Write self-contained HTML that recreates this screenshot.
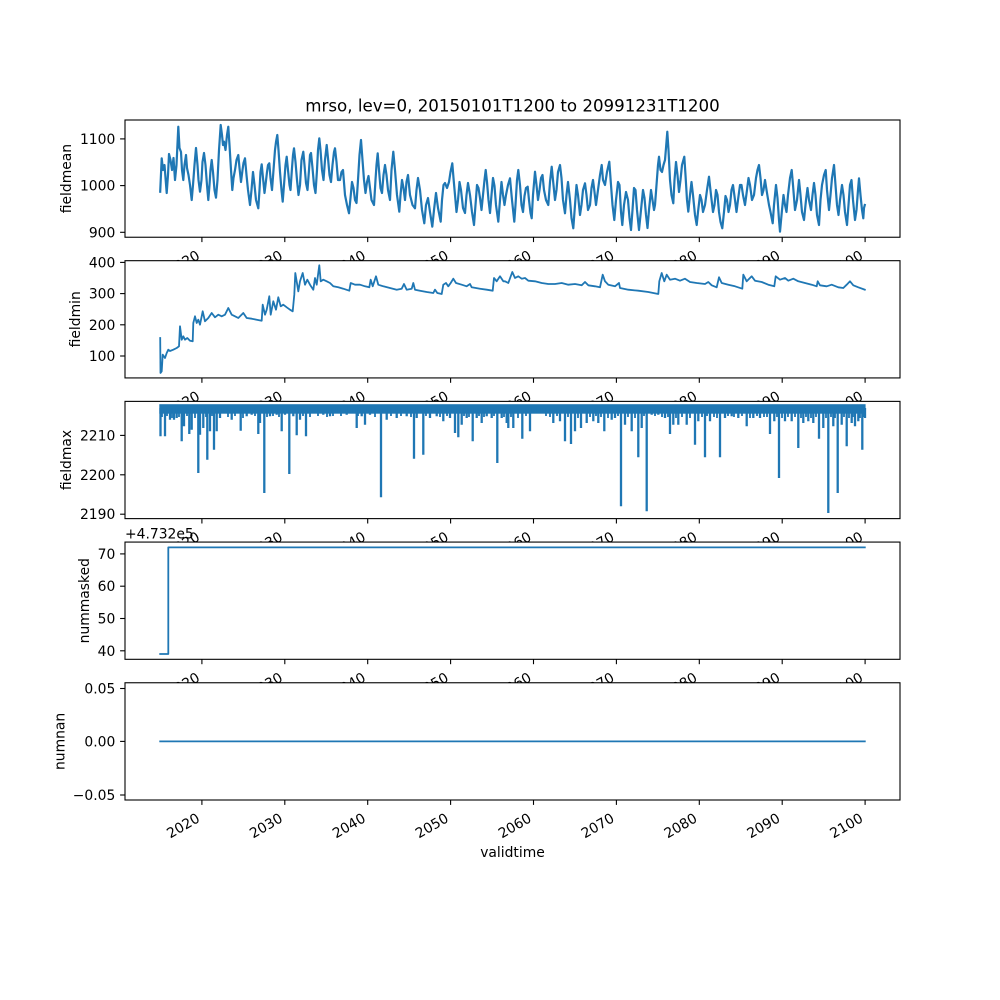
<!DOCTYPE html>
<html><head><meta charset="utf-8"><style>
html,body{margin:0;padding:0;background:#fff;}
svg{display:block;}
text{font-family:"DejaVu Sans","Liberation Sans",sans-serif;font-size:13.89px;fill:#000;}
.ln{fill:none;stroke:#1f77b4;stroke-width:1.8;stroke-linejoin:round;stroke-linecap:square;}
.ln1{fill:none;stroke:#1f77b4;stroke-width:2.2;stroke-linejoin:round;stroke-linecap:square;}
.sp{fill:none;stroke:#000;stroke-width:1.1;}
.tk{stroke:#000;stroke-width:1.1;}
</style></head><body>
<svg width="1000" height="1000" viewBox="0 0 1000 1000" xmlns="http://www.w3.org/2000/svg">
<rect x="0" y="0" width="1000" height="1000" fill="#fff"/>
<text x="512.5" y="111.7" text-anchor="middle" style="font-size:16.67px">mrso, lev=0, 20150101T1200 to 20991231T1200</text>

<!-- Panel 1 -->
<rect x="125" y="120" width="775" height="117.24" fill="#fff"/>
<polyline class="ln1" points="160.2,191.7 161.7,158.3 163,170 164.5,165 166.7,193 168,175 169,154 170.5,160 172,170 173.5,158 175,180 176.5,165 178.3,126.7 179.5,148 181,152 182,170 183.3,180 184.5,165 186,155 187,168 188.5,175 190,185 191.7,200 193,185 194.5,165 196,148 197.5,165 198.5,180 200,191.7 201.5,180 202.5,162 204,153 205.5,165 207,185 208.3,200 209.5,185 210.5,170 211.7,160 213,172 214.5,190 216,197.7 217.5,180 219,150 220.7,125 222,135 223,145 224,141.7 225.5,150 227,135 228.3,126.7 229.5,145 231,170 232.3,190 233.5,178 235,170 236.5,160 238.3,155 239.5,168 241,182 242.5,170 243.5,163 245,158.3 246.5,175 248,190 250,205 251.5,190 253,172 254.5,185 256,200 258.3,208.3 259.5,190 260.5,172 261.7,164.3 263,178 264.5,193 265.5,185 267,172 268,165 269.3,163.3 270.5,178 272,190 273.5,170 275,150 276,142 277.3,135 278.5,150 280,172 281.5,190 282.7,201.7 284,185 285.5,165 286.7,156.7 288,170 289.5,185 290.5,190 292,168 293,155 294,148.3 295.5,162 297,180 298.5,195 300,185 301.5,160 303.3,151.7 304.5,165 306,183 307.5,190 309,170 310,155 311,153 312.5,168 314,185 315.5,193 317,170 318,150 319.3,138.3 320.5,150 322,170 323.5,180 325,160 326.7,145 328,158 329.5,175 331,182 332.5,165 334,152 335,148.3 336.5,162 338,180 340,180 341.5,172 343,170 345,195 347,205 349,213.3 350.5,198 352,182 353.5,188 355,200 356.5,203 358,180 359.5,155 361,140 362.5,160 364,180 365.5,193 367,182 368.5,176 370,188 371.5,200 374,205 375.5,180 376.5,165 377.7,153.3 379,170 380.5,188 382,193 383.5,175 385,165 386.5,175 388,190 390,200 391.5,170 393.3,151.7 395,170 397,195 399.3,211.7 400.5,195 402,180 403.5,188 405,200 406.5,182 408,175 410,195 412.5,205 415,208.3 416.5,190 418,178 420,190 422,210 424.3,223.3 426,205 428,198 430,212 432.3,226.7 434,210 436,193 438,208 440.7,221.7 442,200 443.5,185 445,183 447,188 449,182 450.5,172 452.3,163.3 453.5,178 455,195 456.5,212 458,200 459.5,182 461,190 463,208 465,213 466.5,195 468,183 470,195 472,212 474,225 475.5,205 477,185 478.5,188 480,198 481.5,210 483,195 484.5,180 485.7,170 487,182 488.5,200 490,213 491.5,195 493,178 494.5,186 496,205 498.3,221.7 500,200 501.5,182 503,195 504.5,205 506,195 508,185 510,178.3 512,200 514.3,221.7 515.5,205 517,180 518.3,170 520,185 521.5,205 523,212 524.5,196 526,188 527.7,186.7 529,200 530.5,213 531.7,218.3 533,195 535,171.7 536.5,185 538,200 539.5,190 541,178 542.5,175 544,190 546,200 548.3,205 550,182 551.7,166.7 553,180 555,200 556.5,190 558,172 560,165 561.5,178 563,200 565,213.3 566.5,195 568,182 570,200 571.5,218 573.3,228.3 575,205 576.5,185 578,195 580,215 581.5,205 583,190 585,183.3 586.5,195 588,210 590,205 591.5,188 593,180 594.5,192 596,205 598,190 600,175 601.7,165 603,180 605,185 607,172 609.3,161.7 611,185 612.5,205 614.3,220 616,200 618,182 619.5,185 621,212 622.3,225 624,205 626,192 628,200 629.5,218 631,230 632.5,210 634,188 635.5,190 637,210 639,230 641,210 643,190 644.5,198 646,215 647.5,228 649,210 651,190 652.5,200 654,210 655,205 656.5,185 658,165 659,156.7 660.5,170 662,172 663.5,165 665,160 666,148 667.3,131.7 668.5,150 670,180 671.5,195 673.3,203.3 674.5,180 676,162 677.5,175 679,192 680.5,180 682,165 684.3,156.7 685.5,175 687,200 688.3,211.7 690,195 691.5,182 693,195 695,215 696.7,225 698,212 700,195 701.5,200 703,212 705,205 707,190 709,176.7 711,195 713,212 714.5,205 716,190 717.5,195 719,212 720.5,222 722.3,228.3 724,212 725.5,196 727,200 728.5,212 730,205 731.5,190 733,185 735,200 736.5,212 738,200 740,185 741.5,185 743,195 745,205 747,190 748.5,178 750,185 752,200 754,195 756,178 757.5,170 759,165 760.5,178 762,195 763.5,190 765,180 767,193 769,205 770.5,212 772.7,223.3 774,205 776,185 777.5,198 779,220 780,231.7 782,210 783.5,195 785,205 786.5,212 788,195 790,178 791.7,170 793,185 795,210 797,200 799,180 800.5,195 802,212 804,220 806,200 807.5,188 809,200 811,210 812.5,195 814,183 815.5,195 817,215 819,225 820.5,200 822,185 824,175 825.7,170 827,190 829,210 830.5,195 832,178 834,165 835.5,185 837,205 838.5,215 840,200 842,185 843.5,195 845,212 847,225 848.5,205 850,185 851.5,180 853,200 855,220 856.5,210 858,190 859,178.3 860.5,195 862,210 863.3,218.3 864,208 864.8,205"/>
<rect class="sp" x="125" y="120" width="775" height="117.24"/>
<g class="tk">
<line x1="120.1" y1="138.9" x2="125" y2="138.9"/><line x1="120.1" y1="185.6" x2="125" y2="185.6"/><line x1="120.1" y1="232.3" x2="125" y2="232.3"/>
<line x1="201.9" y1="237.24" x2="201.9" y2="242.1"/><line x1="284.8" y1="237.24" x2="284.8" y2="242.1"/><line x1="367.7" y1="237.24" x2="367.7" y2="242.1"/><line x1="450.6" y1="237.24" x2="450.6" y2="242.1"/><line x1="533.5" y1="237.24" x2="533.5" y2="242.1"/><line x1="616.4" y1="237.24" x2="616.4" y2="242.1"/><line x1="699.3" y1="237.24" x2="699.3" y2="242.1"/><line x1="782.2" y1="237.24" x2="782.2" y2="242.1"/><line x1="865.1" y1="237.24" x2="865.1" y2="242.1"/>
</g>
<g text-anchor="end">
<text x="115.3" y="143.9">1100</text><text x="115.3" y="190.6">1000</text><text x="115.3" y="237.3">900</text>
</g>
<g text-anchor="end">
<text transform="translate(200.8,258.2) rotate(-30)">2020</text><text transform="translate(283.7,258.2) rotate(-30)">2030</text><text transform="translate(366.6,258.2) rotate(-30)">2040</text><text transform="translate(449.5,258.2) rotate(-30)">2050</text><text transform="translate(532.4,258.2) rotate(-30)">2060</text><text transform="translate(615.3,258.2) rotate(-30)">2070</text><text transform="translate(698.2,258.2) rotate(-30)">2080</text><text transform="translate(781.1,258.2) rotate(-30)">2090</text><text transform="translate(864,258.2) rotate(-30)">2100</text>
</g>
<text transform="translate(71.1,178.6) rotate(-90)" text-anchor="middle">fieldmean</text>

<!-- Panel 2 -->
<rect x="125" y="260.69" width="775" height="117.24" fill="#fff"/>
<polyline class="ln" points="160.2,338 160.5,373 161.7,371.3 162.7,354.7 165,358 166.7,353 168.3,349.7 170,351 173.3,349.7 176.7,348 179,346.3 180,326.3 181.7,339.7 183.3,336.3 185,339.7 187.3,338 190,340.7 192.7,341.3 193.3,323 195,316.3 196.7,323 198.3,319.7 200,324.7 202.7,311.3 205,321.3 208.3,318 211.7,313 215,317.3 218.3,314.7 221.7,316.3 225,314.7 228.3,308 231.7,314.7 235,316.3 238.3,318 243.3,313 246.7,318 251.7,318.7 256.7,319.7 261.7,320.7 262.7,304.7 265,314.7 266.7,309.7 269.3,296.3 270.7,314.7 273.3,301.3 276,309.7 278.3,297.3 280.7,306.3 283.3,304.7 286.7,307.3 290,309.7 292.7,311.3 294.3,294.7 295.3,273 298.3,291.3 300,281.3 302.7,273 305,284.7 307.3,279.7 310,284.7 313.3,289.7 315,278 316.7,284.7 319.3,265.3 320.7,281.3 323.3,279.7 326.7,281.3 330,283 333.3,286.3 338.3,287.3 343.3,288.7 349.3,290.7 350.7,283 355,284.7 360,284.7 365,286.3 369.3,287.3 370.7,279.7 372.7,286.3 376,276.3 378.3,284.7 383.3,286.3 390,288 396.7,289.7 401.7,288.7 404,284 406.7,289.7 411.7,288.7 413.3,283 415,289.7 420,290.7 426.7,292 433.3,293 435,289.7 437.3,293 441.7,294 443.3,284.7 446,283 448.3,286.3 450.7,283 453.3,278.7 456,283 461.7,284.7 466.7,286.3 470,284 471.7,287.3 480,288.7 486.7,289.7 492.7,290.7 494,278 496.7,281.3 500,276.3 503.3,281.3 505,281.3 508.3,283 512.3,272 515,278 518.3,276.3 521.7,278.7 525,278 528.3,280.7 535,281.3 541.7,283 548.3,284 555,284 561.7,283 568.3,284.7 575,284 581.7,285.3 585,282 588.3,285.3 595,286.3 600,287.3 602.7,274.7 605,281.3 608.3,284.7 615,286.3 619,283 620,288 628.3,289.7 638.3,290.7 648.3,292 658.3,294 659.3,281.3 661.7,273 664.3,281.3 666.7,274.7 670,279.7 675,278.7 680,280.7 685,278.7 690,282 696.7,283 705,284 708.3,282 711.7,285.3 716.7,287.3 719,277.3 721.7,283 728.3,284.7 735,286.3 742.3,288.7 743.3,274.7 746.7,281.3 751.7,276.3 755,280.7 761.7,282 768.3,284.7 774.3,286.3 775.7,276.3 780,279.7 785,278 788.3,280.7 793.3,278.7 798.3,281.3 805,283 811.7,284.7 816.7,286.3 817.7,281.3 820,285.3 826.7,286.3 831.7,284.7 838.3,287.3 843.3,288 846.7,284.7 850,281.3 853.3,285.3 858.3,287.3 864.8,289.7"/>
<rect class="sp" x="125" y="260.69" width="775" height="117.24"/>
<g class="tk">
<line x1="120.1" y1="262.4" x2="125" y2="262.4"/><line x1="120.1" y1="293.6" x2="125" y2="293.6"/><line x1="120.1" y1="324.8" x2="125" y2="324.8"/><line x1="120.1" y1="356" x2="125" y2="356"/>
<line x1="201.9" y1="377.93" x2="201.9" y2="382.8"/><line x1="284.8" y1="377.93" x2="284.8" y2="382.8"/><line x1="367.7" y1="377.93" x2="367.7" y2="382.8"/><line x1="450.6" y1="377.93" x2="450.6" y2="382.8"/><line x1="533.5" y1="377.93" x2="533.5" y2="382.8"/><line x1="616.4" y1="377.93" x2="616.4" y2="382.8"/><line x1="699.3" y1="377.93" x2="699.3" y2="382.8"/><line x1="782.2" y1="377.93" x2="782.2" y2="382.8"/><line x1="865.1" y1="377.93" x2="865.1" y2="382.8"/>
</g>
<g text-anchor="end">
<text x="115.3" y="267.4">400</text><text x="115.3" y="298.6">300</text><text x="115.3" y="329.8">200</text><text x="115.3" y="361">100</text>
</g>
<g text-anchor="end">
<text transform="translate(200.8,398.9) rotate(-30)">2020</text><text transform="translate(283.7,398.9) rotate(-30)">2030</text><text transform="translate(366.6,398.9) rotate(-30)">2040</text><text transform="translate(449.5,398.9) rotate(-30)">2050</text><text transform="translate(532.4,398.9) rotate(-30)">2060</text><text transform="translate(615.3,398.9) rotate(-30)">2070</text><text transform="translate(698.2,398.9) rotate(-30)">2080</text><text transform="translate(781.1,398.9) rotate(-30)">2090</text><text transform="translate(864,398.9) rotate(-30)">2100</text>
</g>
<text transform="translate(80,319.3) rotate(-90)" text-anchor="middle">fieldmin</text>

<!-- Panel 3 -->
<rect x="125" y="401.38" width="775" height="117.24" fill="#fff"/>
<rect x="159.3" y="404.2" width="706.3" height="9.5" fill="#1f77b4"/>
<path fill="none" stroke="#1f77b4" stroke-width="2.3" d="M160.5,408V436.3M165,408V436.3M170,408V419.7M174,408V419.7M176.7,408V418M181.7,408V441.3M184,408V426.3M189.3,408V434M191.7,408V429.7M198.3,408V473M200,408V434.7M203.3,408V428M207.3,408V459.7M210,408V431.3M214,408V449.7M216.7,408V431.3M220,408V418M225,408V413M231.7,408V419.7M240.7,408V430.7M246.7,408V416.3M251.7,408V414.7M258.3,408V434M260,408V423M264.3,408V493M270,408V416.3M276.7,408V414.7M281.7,408V431.3M285,408V414.7M289.3,408V474M293.3,408V416.3M296.7,408V435.3M300,408V419.7M306,408V436.3M313.3,408V413M323.3,408V414.7M330,408V416.3M336.7,408V413M346.7,408V414.7M351.7,408V413M356.7,408V428M361.7,408V416.3M365,408V424.7M370,408V414.7M381,408V497.3M386.7,408V419.7M396.7,408V418M406.7,408V416.3M414,408V458.7M416.7,408V418M423.3,408V454.7M430,408V418M436.7,408V416.3M443.3,408V421.3M450,408V418M455,408V433M458.3,408V437.3M461.7,408V424.7M466.7,408V418M472.7,408V441.3M476.7,408V418M481.7,408V423M486.7,408V416.3M491.7,408V418M497.3,408V463M501.7,408V418M506.7,408V423M508.3,408V428M513.3,408V428M522.3,408V438.7M530,408V431.3M535,408V413M541.7,408V413M553.3,408V423M560,408V421.3M565,408V441.3M571,408V444M575,408V431.3M581,408V428M586.7,408V423M593.3,408V421.3M598.3,408V423M604.3,408V431.3M611.7,408V419.7M615,408V418M621,408V506.3M625,408V424.7M631.7,408V431.3M638.3,408V457.3M641.7,408V428M646.7,408V511.3M651.7,408V414.7M658.3,408V414.7M665,408V418M670,408V434M673.3,408V424.7M678.3,408V424.7M686.7,408V424.7M695,408V444.7M698.3,408V421.3M705,408V457.3M710,408V421.3M720,408V457.3M725,408V418M731.7,408V416.3M738.3,408V418M746.7,408V426.3M753.3,408V418M760,408V418M770,408V434M774.3,408V421.3M779,408V478M785,408V421.3M791.7,408V421.3M798.3,408V448M803.3,408V423M808.3,408V421.3M813.3,408V423M819,408V438.7M823.3,408V428M828.3,408V513M833.3,408V426.3M837.7,408V493M841.7,408V424.7M846.7,408V446.3M851.7,408V423M855,408V426.3M858.3,408V421.3M862.3,408V449.7M865,408V418"/>
<path fill="none" stroke="#1f77b4" stroke-width="1.8" d="M162,408V417M167,408V416M172,408V418M179,408V417M187,408V416M195,408V418M206,408V417M212,408V416M228,408V417M235,408V416M243,408V418M255,408V416M267,408V417M273,408V416M279,408V417M303,408V416M310,408V417M318,408V416M327,408V417M333,408V416M341,408V416M358,408V416M375,408V417M391,408V416M401,408V416M411,408V417M426,408V416M440,408V417M447,408V416M464,408V416M469,408V417M479,408V416M484,408V417M494,408V416M504,408V417M511,408V417M518,408V418M526,408V416M546,408V416M550,408V417M557,408V416M568,408V417M578,408V418M590,408V417M596,408V416M601,408V417M608,408V418M618,408V416M628,408V417M635,408V418M644,408V416M655,408V416M662,408V417M668,408V417M676,408V418M682,408V417M690,408V418M702,408V417M707,408V416M714,408V417M717,408V418M728,408V416M734,408V417M742,408V416M750,408V418M757,408V416M764,408V417M767,408V417M777,408V417M782,408V418M788,408V417M795,408V417M801,408V418M806,408V417M811,408V418M816,408V417M826,408V418M831,408V417M835,408V418M844,408V417M849,408V418M853,408V417M860,408V418M864,408V417"/>
<rect class="sp" x="125" y="401.38" width="775" height="117.24"/>
<g class="tk">
<line x1="120.1" y1="435.4" x2="125" y2="435.4"/><line x1="120.1" y1="474.8" x2="125" y2="474.8"/><line x1="120.1" y1="514.2" x2="125" y2="514.2"/>
<line x1="201.9" y1="518.62" x2="201.9" y2="523.5"/><line x1="284.8" y1="518.62" x2="284.8" y2="523.5"/><line x1="367.7" y1="518.62" x2="367.7" y2="523.5"/><line x1="450.6" y1="518.62" x2="450.6" y2="523.5"/><line x1="533.5" y1="518.62" x2="533.5" y2="523.5"/><line x1="616.4" y1="518.62" x2="616.4" y2="523.5"/><line x1="699.3" y1="518.62" x2="699.3" y2="523.5"/><line x1="782.2" y1="518.62" x2="782.2" y2="523.5"/><line x1="865.1" y1="518.62" x2="865.1" y2="523.5"/>
</g>
<g text-anchor="end">
<text x="115.3" y="440.4">2210</text><text x="115.3" y="479.8">2200</text><text x="115.3" y="519.2">2190</text>
</g>
<g text-anchor="end">
<text transform="translate(200.8,539.6) rotate(-30)">2020</text><text transform="translate(283.7,539.6) rotate(-30)">2030</text><text transform="translate(366.6,539.6) rotate(-30)">2040</text><text transform="translate(449.5,539.6) rotate(-30)">2050</text><text transform="translate(532.4,539.6) rotate(-30)">2060</text><text transform="translate(615.3,539.6) rotate(-30)">2070</text><text transform="translate(698.2,539.6) rotate(-30)">2080</text><text transform="translate(781.1,539.6) rotate(-30)">2090</text><text transform="translate(864,539.6) rotate(-30)">2100</text>
</g>
<text transform="translate(71.1,460) rotate(-90)" text-anchor="middle">fieldmax</text>

<!-- Panel 4 -->
<rect x="125" y="542.07" width="775" height="117.24" fill="#fff"/>
<path class="ln" d="M160.2,654H168.3V547.4H864.8"/>
<rect class="sp" x="125" y="542.07" width="775" height="117.24"/>
<g class="tk">
<line x1="120.1" y1="553.9" x2="125" y2="553.9"/><line x1="120.1" y1="586.2" x2="125" y2="586.2"/><line x1="120.1" y1="618.5" x2="125" y2="618.5"/><line x1="120.1" y1="650.8" x2="125" y2="650.8"/>
<line x1="201.9" y1="659.31" x2="201.9" y2="664.2"/><line x1="284.8" y1="659.31" x2="284.8" y2="664.2"/><line x1="367.7" y1="659.31" x2="367.7" y2="664.2"/><line x1="450.6" y1="659.31" x2="450.6" y2="664.2"/><line x1="533.5" y1="659.31" x2="533.5" y2="664.2"/><line x1="616.4" y1="659.31" x2="616.4" y2="664.2"/><line x1="699.3" y1="659.31" x2="699.3" y2="664.2"/><line x1="782.2" y1="659.31" x2="782.2" y2="664.2"/><line x1="865.1" y1="659.31" x2="865.1" y2="664.2"/>
</g>
<g text-anchor="end">
<text x="115.3" y="558.9">70</text><text x="115.3" y="591.2">60</text><text x="115.3" y="623.5">50</text><text x="115.3" y="655.8">40</text>
</g>
<text x="125" y="538.5">+4.732e5</text>
<g text-anchor="end">
<text transform="translate(200.8,680.3) rotate(-30)">2020</text><text transform="translate(283.7,680.3) rotate(-30)">2030</text><text transform="translate(366.6,680.3) rotate(-30)">2040</text><text transform="translate(449.5,680.3) rotate(-30)">2050</text><text transform="translate(532.4,680.3) rotate(-30)">2060</text><text transform="translate(615.3,680.3) rotate(-30)">2070</text><text transform="translate(698.2,680.3) rotate(-30)">2080</text><text transform="translate(781.1,680.3) rotate(-30)">2090</text><text transform="translate(864,680.3) rotate(-30)">2100</text>
</g>
<text transform="translate(89,600.7) rotate(-90)" text-anchor="middle">nummasked</text>

<!-- Panel 5 -->
<rect x="125" y="682.76" width="775" height="117.24" fill="#fff"/>
<path class="ln" d="M160.2,741.4H864.8"/>
<rect class="sp" x="125" y="682.76" width="775" height="117.24"/>
<g class="tk">
<line x1="120.1" y1="688.5" x2="125" y2="688.5"/><line x1="120.1" y1="741.4" x2="125" y2="741.4"/><line x1="120.1" y1="795" x2="125" y2="795"/>
<line x1="201.9" y1="800" x2="201.9" y2="804.9"/><line x1="284.8" y1="800" x2="284.8" y2="804.9"/><line x1="367.7" y1="800" x2="367.7" y2="804.9"/><line x1="450.6" y1="800" x2="450.6" y2="804.9"/><line x1="533.5" y1="800" x2="533.5" y2="804.9"/><line x1="616.4" y1="800" x2="616.4" y2="804.9"/><line x1="699.3" y1="800" x2="699.3" y2="804.9"/><line x1="782.2" y1="800" x2="782.2" y2="804.9"/><line x1="865.1" y1="800" x2="865.1" y2="804.9"/>
</g>
<g text-anchor="end">
<text x="115.3" y="693.5">0.05</text><text x="115.3" y="746.4">0.00</text><text x="115.3" y="800">−0.05</text>
</g>
<g text-anchor="end">
<text transform="translate(200.8,821) rotate(-30)">2020</text><text transform="translate(283.7,821) rotate(-30)">2030</text><text transform="translate(366.6,821) rotate(-30)">2040</text><text transform="translate(449.5,821) rotate(-30)">2050</text><text transform="translate(532.4,821) rotate(-30)">2060</text><text transform="translate(615.3,821) rotate(-30)">2070</text><text transform="translate(698.2,821) rotate(-30)">2080</text><text transform="translate(781.1,821) rotate(-30)">2090</text><text transform="translate(864,821) rotate(-30)">2100</text>
</g>
<text transform="translate(64.5,741.4) rotate(-90)" text-anchor="middle">numnan</text>
<text x="512.5" y="857" text-anchor="middle">validtime</text>
</svg>
</body></html>
